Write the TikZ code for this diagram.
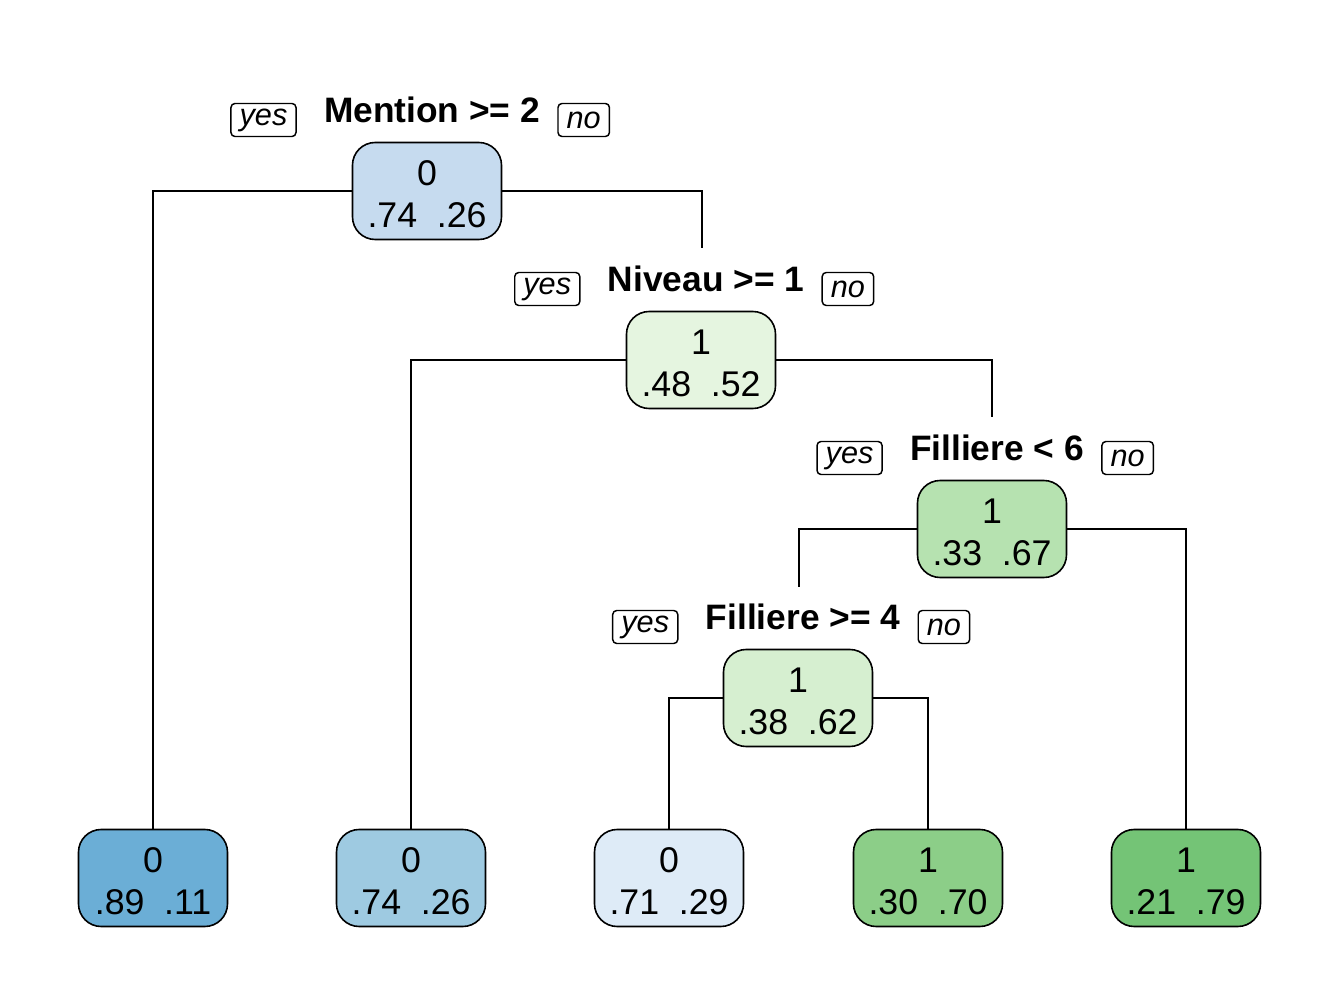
\documentclass[tikz,border=0pt]{standalone}
\usepackage{fontspec}
\setmainfont{Liberation Sans}
\definecolor{cRoot}{HTML}{C6DBEF}
\definecolor{cLa}{HTML}{6BAED6}
\definecolor{cLb}{HTML}{9ECAE1}
\definecolor{cLc}{HTML}{DEEBF7}
\definecolor{cNiv}{HTML}{E5F5E0}
\definecolor{cFa}{HTML}{D6EFD0}
\definecolor{cFb}{HTML}{B6E2B0}
\definecolor{cLd}{HTML}{8CCE88}
\definecolor{cLe}{HTML}{74C476}
\newcommand{\boxtxt}[3]{\raisebox{-5.4pt}[\height][\depth]{\begin{tabular}{@{}c@{}}#1\\[-0.5pt]#2\hspace{0.55em}#3\end{tabular}}}
\begin{document}
\begin{tikzpicture}[x=0.75pt,y=-0.75pt,
  tbox/.style={draw, line width=1.2pt, rounded corners=17pt, minimum width=111.75pt,
    minimum height=72.75pt, inner sep=0pt,
    font=\fontsize{26.8}{32}\selectfont},
  splitlab/.style={inner sep=0pt, font=\bfseries\fontsize{26.5}{30}\selectfont},
  yn/.style={draw, line width=1.1pt, rounded corners=3pt, inner xsep=6.5pt, inner ysep=0pt,
    minimum height=24.75pt, font=\itshape\fontsize{23}{24}\selectfont},
  conn/.style={line width=1.1pt}
]
\useasboundingbox[fill=white] (0,0) rectangle (1322,987);

% tree nodes
\node[tbox, fill=cRoot] (root) at (427,191) {\boxtxt{0}{.74}{.26}};
\node[tbox, fill=cNiv]  (niv)  at (701,360) {\boxtxt{1}{.48}{.52}};
\node[tbox, fill=cFb]   (fb)   at (992,529) {\boxtxt{1}{.33}{.67}};
\node[tbox, fill=cFa]   (fa)   at (798,698) {\boxtxt{1}{.38}{.62}};
\node[tbox, fill=cLa]   (la)   at (153,878) {\boxtxt{0}{.89}{.11}};
\node[tbox, fill=cLb]   (lb)   at (411,878) {\boxtxt{0}{.74}{.26}};
\node[tbox, fill=cLc]   (lc)   at (669,878) {\boxtxt{0}{.71}{.29}};
\node[tbox, fill=cLd]   (ld)   at (928,878) {\boxtxt{1}{.30}{.70}};
\node[tbox, fill=cLe]   (le)   at (1186,878) {\boxtxt{1}{.21}{.79}};

% split labels
\node[splitlab] (s1) at ([shift={(5,-81)}]root.center) {Mention >= 2};
\node[splitlab] (s2) at ([shift={(5,-81)}]niv.center) {Niveau >= 1};
\node[splitlab] (s3) at ([shift={(5,-81)}]fb.center) {Filliere < 6};
\node[splitlab] (s4) at ([shift={(5,-81)}]fa.center) {Filliere >= 4};

\foreach \s in {s1,s2,s3,s4}{
  \node[yn, anchor=east] (y\s) at ([shift={(-27,10)}]\s.west) {yes};
  \node[yn, anchor=west] (n\s) at ([shift={(17,10)}]\s.east) {no};
}

% connector ends above split labels
\coordinate (t2) at ([shift={(1,-112)}]niv.center);
\coordinate (t3) at ([shift={(0,-112)}]fb.center);
\coordinate (t4) at ([shift={(1,-111)}]fa.center);

\draw[conn] (root.west) -| (la.north);
\draw[conn] (root.east) -| (t2);
\draw[conn] (niv.west) -| (lb.north);
\draw[conn] (niv.east) -| (t3);
\draw[conn] (fb.west) -| (t4);
\draw[conn] (fb.east) -| (le.north);
\draw[conn] (fa.west) -| (lc.north);
\draw[conn] (fa.east) -| (ld.north);
\end{tikzpicture}
\end{document}
